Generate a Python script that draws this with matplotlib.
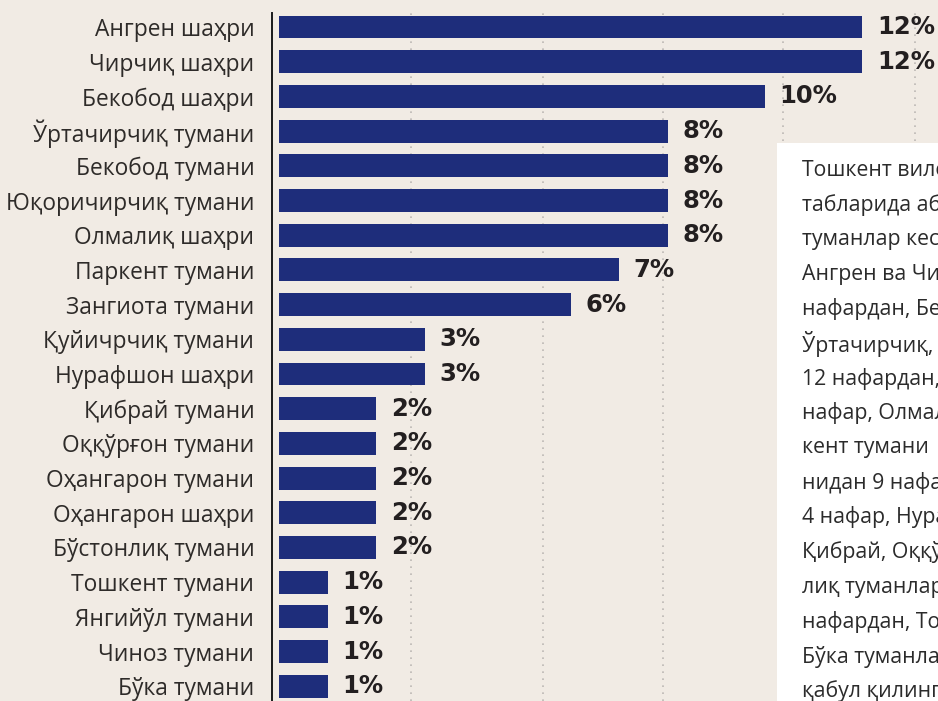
import matplotlib
matplotlib.use('Agg')
import matplotlib.pyplot as plt
from matplotlib.patches import Rectangle

# ── Data ─────────────────────────────────────────────────────────────────────
districts = [
    'Ангрен шаҳри', 'Чирчиқ шаҳри', 'Бекобод шаҳри', 'Ўртачирчиқ тумани',
    'Бекобод тумани', 'Юқоричирчиқ тумани', 'Олмалиқ шаҳри', 'Паркент тумани',
    'Зангиота тумани', 'Қуйичрчиқ тумани', 'Нурафшон шаҳри', 'Қибрай тумани',
    'Оққўрғон тумани', 'Оҳангарон тумани', 'Оҳангарон шаҳри', 'Бўстонлиқ тумани',
    'Тошкент тумани', 'Янгийўл тумани', 'Чиноз тумани', 'Бўка тумани',
]
shares = [12, 12, 10, 8, 8, 8, 8, 7, 6, 3, 3, 2, 2, 2, 2, 2, 1, 1, 1, 1]
grid_x = [2.72, 5.43, 7.90, 10.37, 13.09]

note_lines = [
    'Тошкент вилояти',
    'табларида абитуриент',
    'туманлар кесимида',
    'Ангрен ва Чирчиқ',
    'нафардан, Бекобод',
    'Ўртачирчиқ, Бекобод',
    '12 нафардан, Паркент',
    'нафар, Олмалиқ',
    'кент тумани',
    'нидан 9 нафар',
    '4 нафар, Нурафшон',
    'Қибрай, Оққўрғон',
    'лиқ туманлари',
    'нафардан, Тошкент',
    'Бўка туманлари',
    'қабул қилинган',
]

# ── Palette ──────────────────────────────────────────────────────────────────
BG    = '#F1EBE4'
NAVY  = '#1E2D7B'
INK   = '#231F20'
LABEL = '#2E2B29'
GRID  = '#BDB8B4'

W, H, DPI = 938, 701, 100
fig = plt.figure(figsize=(W / DPI, H / DPI), dpi=DPI)
fig.patch.set_facecolor(BG)

# axes frame: left spine at x=272px, top at y=13px, runs off the bottom edge
ax = fig.add_axes([271.7 / W, 0, 1 - 271.7 / W, (H - 13) / H])
ax.set_facecolor(BG)

ypos = list(range(len(districts)))
ax.barh(ypos, shares, height=0.66, color=NAVY, zorder=2)

for y, v in zip(ypos, shares):
    ax.annotate(f'{v}%', xy=(v, y), xytext=(10.5, 0), textcoords='offset points',
                ha='left', va='center', fontsize=17.5, fontweight='bold',
                family='DejaVu Sans', color=INK, zorder=3)

for gx in grid_x:
    ax.axvline(gx, color=GRID, lw=1.2, ls=(0, (1, 3.2)), zorder=1)

ax.set_xlim(-0.15, (W - 279) / 48.6)
ax.set_ylim((H - 27) / 34.7, -(27 - 13) / 34.7)
ax.set_yticks(ypos)
ax.set_yticklabels(districts, family='Open Sans', fontsize=16.4, color=LABEL)
ax.tick_params(axis='y', length=0, pad=12.5)
ax.set_xticks([])

for side in ('top', 'right', 'bottom'):
    ax.spines[side].set_visible(False)
ax.spines['left'].set_color('#1A1A1A')
ax.spines['left'].set_linewidth(1.4)

# ── Side note panel (runs past the right edge) ──────────────────────────────
panel = Rectangle((777 / W, 0), 1, (H - 143) / H, transform=fig.transFigure,
                  facecolor='white', edgecolor='none', zorder=5)
fig.add_artist(panel)
for k, line in enumerate(note_lines):
    yc = 170 + 34.75 * k
    fig.text(802 / W, 1 - yc / H, line, ha='left', va='center',
             family='Open Sans', fontsize=15.3, color='#2B2B2B', zorder=6)

fig.savefig('out.png', dpi=DPI, facecolor=BG)
